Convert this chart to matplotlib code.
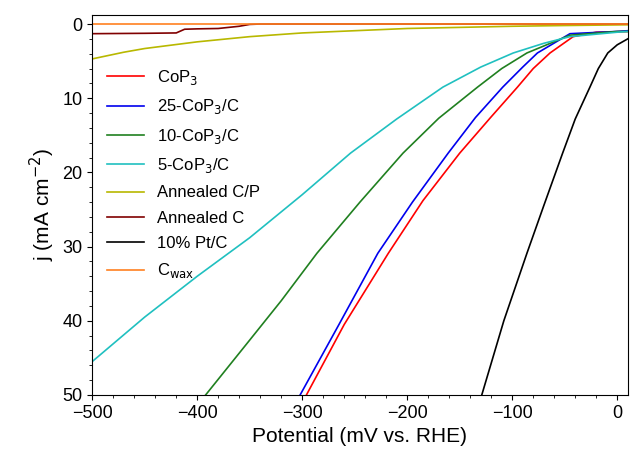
import matplotlib
matplotlib.use('Agg')
import matplotlib.pyplot as plt
from matplotlib.ticker import MultipleLocator

cop3_x = [-296, -260, -218, -185, -150, -120, -95, -80, -64, -42, -20, 10]
cop3_y = [50, 40.5, 30.9, 23.8, 17.4, 12.5, 8.5, 6.0, 3.9, 1.7, 1.1, 1.0]
c25_x = [-302, -265, -228, -195, -161, -135, -109, -90, -76, -45, 0, 10]
c25_y = [50, 40.5, 30.9, 24.0, 17.4, 12.6, 8.5, 5.8, 3.9, 1.3, 1.0, 0.9]
c10_x = [-392, -350, -320, -286, -245, -204, -170, -133, -110, -86, -45, 0, 10]
c10_y = [50, 42.6, 37.3, 30.9, 24.0, 17.4, 12.7, 8.5, 6.0, 3.9, 1.5, 1.0, 1.0]
c5_x = [-500, -450, -400, -350, -300, -254, -210, -166, -130, -99, -70, -45, 0, 10]
c5_y = [45.5, 39.5, 34.0, 28.8, 23.0, 17.4, 12.8, 8.5, 5.8, 3.9, 2.6, 1.7, 1.1, 1.0]
acp_x = [-500, -470, -450, -400, -350, -300, -250, -200, -150, -100, -50, 10]
acp_y = [4.7, 3.8, 3.3, 2.4, 1.7, 1.2, 0.9, 0.6, 0.45, 0.3, 0.2, 0.1]
ac_x = [-500, -450, -420, -412, -400, -380, -360, -350, -340, 10]
ac_y = [1.3, 1.25, 1.2, 0.7, 0.65, 0.6, 0.3, 0.05, 0, 0]
pt_x = [-129, -108, -86, -70, -52, -40, -26, -18, -9, 0, 10]
pt_y = [50, 40.0, 30.9, 24.5, 17.4, 12.8, 8.5, 6.0, 3.9, 2.8, 2.0]
wax_x = [-500, 10]
wax_y = [0, 0]

series = [
    (cop3_x, cop3_y, 'red', 'CoP$_3$'),
    (c25_x, c25_y, '#0000ee', '25-CoP$_3$/C'),
    (c10_x, c10_y, '#208020', '10-CoP$_3$/C'),
    (c5_x, c5_y, '#20c0c0', '5-CoP$_3$/C'),
    (acp_x, acp_y, '#b8b800', 'Annealed C/P'),
    (ac_x, ac_y, '#800000', 'Annealed C'),
    (pt_x, pt_y, 'black', '10% Pt/C'),
    (wax_x, wax_y, '#ff8020', 'C$_{\\rm wax}$'),
]

plt.rcParams['font.family'] = ['Liberation Sans', 'DejaVu Sans']
fig = plt.figure(figsize=(6.36, 4.73), dpi=100)
ax = fig.add_axes([0.145, 0.165, 0.842, 0.803])
for x, y, c, lab in series:
    ax.plot(x, y, color=c, lw=1.2, label=lab)

ax.set_xlim(-500, 10)
ax.set_ylim(50, -1.2)
ax.xaxis.set_major_locator(MultipleLocator(100))
ax.xaxis.set_minor_locator(MultipleLocator(20))
ax.yaxis.set_major_locator(MultipleLocator(10))
ax.yaxis.set_minor_locator(MultipleLocator(2))
ax.tick_params(labelsize=13)
ax.set_xlabel('Potential (mV vs. RHE)', fontsize=15)
ax.set_ylabel('j (mA cm$^{-2}$)', fontsize=15)
ax.legend(loc='upper left', bbox_to_anchor=(0.0, 0.9), frameon=False,
          fontsize=12, handlelength=2.2, labelspacing=0.62)
fig.savefig('out.png')
